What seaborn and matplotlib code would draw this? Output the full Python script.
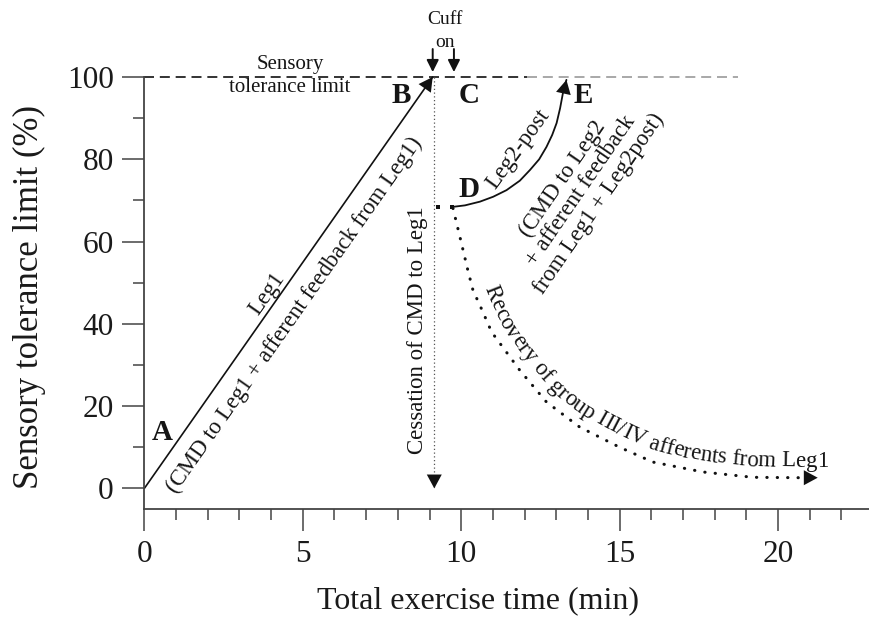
import numpy as np
import seaborn as sns
import matplotlib
matplotlib.use("Agg")
import matplotlib.pyplot as plt
from matplotlib.ticker import MultipleLocator
from matplotlib.font_manager import FontProperties

# schematic values (x: min, y: % of sensory tolerance limit)
leg1_x = [0.0, 9.1]
leg1_y = [0.0, 100.0]

cessation_x = [9.15, 9.15]
cessation_y = [100.0, 0.0]

leg2_x = [9.70, 10.12, 10.59, 11.01, 11.43, 11.85, 12.17, 12.46, 12.69,
          12.87, 13.01, 13.12, 13.21, 13.32]
leg2_y = [68.4, 68.8, 69.7, 70.9, 72.5, 74.8, 77.4, 80.0, 83.0,
          85.9, 88.8, 92.4, 96.1, 99.3]

recovery_x = [9.74, 9.96, 10.21, 10.37, 10.66, 10.96, 11.85, 12.69, 13.74,
              15.0, 16.05, 17.62, 19.2, 20.68, 21.25]
recovery_y = [68.1, 61.1, 53.0, 48.2, 43.3, 38.0, 28.7, 21.0, 14.9,
              10.0, 6.4, 4.0, 2.7, 2.6, 2.6]

gap_x = [9.27, 9.71]
gap_y = [68.4, 68.4]

limit_black_x = [0.0, 12.07]
limit_grey_x = [12.07, 18.73]
limit_y = [100.0, 100.0]

cuff_x = [9.1, 9.77]

x_ticks = [0, 5, 10, 15, 20]
y_ticks = [0, 20, 40, 60, 80, 100]

sns.set_theme(style="ticks")
SERIF = "Liberation Serif"
plt.rcParams["font.family"] = [SERIF, "DejaVu Serif"]
plt.rcParams["text.color"] = "#151515"

fig, ax = plt.subplots(figsize=(8.7, 6.22), dpi=100)
fig.subplots_adjust(left=0.1659, right=1.0, bottom=0.1817, top=0.8762)
ax.set_xlim(0, 22.9)
ax.set_ylim(-5, 100)

K = "#111111"

# dashed sensory tolerance limit
sns.lineplot(x=limit_black_x, y=limit_y, ax=ax, color=K, linewidth=1.2,
             linestyle=(0, (6, 3.5)), estimator=None, sort=False, clip_on=False)
sns.lineplot(x=limit_grey_x, y=limit_y, ax=ax, color="#9a9a9a", linewidth=1.2,
             linestyle=(0, (6, 3.5)), estimator=None, sort=False, clip_on=False)

# Leg1 ramp
sns.lineplot(x=leg1_x, y=leg1_y, ax=ax, color=K, linewidth=1.2,
             estimator=None, sort=False, clip_on=False)

# cessation of CMD (thin dotted vertical)
sns.lineplot(x=cessation_x, y=cessation_y, ax=ax, color="#555555", linewidth=0.9,
             linestyle=(0, (1, 2)), estimator=None, sort=False)

# Leg2-post curve
sns.lineplot(x=leg2_x, y=leg2_y, ax=ax, color=K, linewidth=1.3,
             estimator=None, sort=False, solid_joinstyle="round")

# recovery of group III/IV afferents
sns.lineplot(x=recovery_x[:-1], y=recovery_y[:-1], ax=ax, color=K, linewidth=2.2,
             linestyle=(0, (0.1, 3.3)), dash_capstyle="round",
             estimator=None, sort=False)

sns.scatterplot(x=gap_x, y=gap_y, ax=ax, marker="s", s=10, color=K, linewidth=0)

head = "-|>,head_length=0.5,head_width=0.27"


def arrow_head(x0, y0, x1, y1, scale=20):
    ax.annotate("", xy=(x1, y1), xytext=(x0, y0), annotation_clip=False,
                arrowprops=dict(arrowstyle=head, mutation_scale=scale, color=K,
                                lw=0, shrinkA=0, shrinkB=0))


arrow_head(leg1_x[0], leg1_y[0], leg1_x[-1], leg1_y[-1])
arrow_head(cessation_x[0], 10, cessation_x[-1], cessation_y[-1])
arrow_head(leg2_x[-3], leg2_y[-3], leg2_x[-1], leg2_y[-1])
arrow_head(recovery_x[-3], recovery_y[-1], recovery_x[-1], recovery_y[-1])

for cx in cuff_x:
    ax.annotate("", xy=(cx, 101.2), xytext=(cx, 106.8), annotation_clip=False,
                arrowprops=dict(arrowstyle="-|>,head_length=0.6,head_width=0.3",
                                mutation_scale=12, color=K, lw=1.4,
                                shrinkA=0, shrinkB=0))

# text annotations
ax.text(9.49, 113.9, "Cuff", fontsize=14, ha="center", va="center")
ax.text(9.49, 108.3, "on", fontsize=14, ha="center", va="center")
ax.text(4.6, 103.0, "Sensory", fontsize=15, ha="center", va="center")
ax.text(4.6, 97.5, "tolerance limit", fontsize=15, ha="center", va="center")

bold = dict(fontsize=21, fontweight="bold", ha="center", va="center")
ax.text(0.57, 13.6, "A", **bold)
ax.text(8.12, 95.6, "B", **bold)
ax.text(10.24, 95.4, "C", **bold)
ax.text(10.24, 72.7, "D", **bold)
ax.text(13.84, 95.6, "E", **bold)

p0 = ax.transData.transform((leg1_x[0], leg1_y[0]))
p1 = ax.transData.transform((leg1_x[-1], leg1_y[-1]))
leg1_ang = np.degrees(np.arctan2(p1[1] - p0[1], p1[0] - p0[0]))
note = dict(fontsize=16.5, ha="center", va="center", rotation_mode="anchor")
ax.text(3.87, 47.4, "Leg1", rotation=leg1_ang, **note)
ax.text(4.75, 42.1, "(CMD to Leg1 + afferent feedback from Leg1)",
        rotation=leg1_ang, **note)
ax.text(8.63, 38.4, "Cessation of CMD to Leg1", rotation=90, **note)
ax.text(11.8, 82.5, "Leg2-post", rotation=54, **note)
ax.text(13.78, 72.3, "(CMD to Leg2\n+ afferent feedback\nfrom Leg1 + Leg2post)",
        rotation=55.5, multialignment="center", linespacing=1.05, **note)


def curved_text(xs, ys, text, offset, start_idx, shift=0.0, size=16.5):
    r = fig.canvas.get_renderer()
    pts = ax.transData.transform(np.column_stack([xs, ys]))
    t = np.gradient(pts, axis=0)
    t /= np.linalg.norm(t, axis=1)[:, None]
    n = np.column_stack([-t[:, 1], t[:, 0]])
    base = pts + offset * n
    base = np.vstack([base, base[-1] + 300 * t[-1]])
    ang = np.degrees(np.unwrap(np.arctan2(t[:, 1], t[:, 0])))
    ang = np.append(ang, ang[-1])
    s = np.concatenate([[0], np.cumsum(np.linalg.norm(np.diff(base, axis=0), axis=1))])
    fp = FontProperties(family=SERIF, size=size)
    ref = r.get_text_width_height_descent("|", fp, ismath=False)[0]

    def adv(sub):
        return r.get_text_width_height_descent(sub + "|", fp, ismath=False)[0] - ref

    inv = ax.transData.inverted()
    s0 = s[start_idx] + shift
    for i, ch in enumerate(text):
        if ch == " ":
            continue
        mid = s0 + (adv(text[:i]) + adv(text[:i + 1])) / 2
        px = np.interp(mid, s, base[:, 0])
        py = np.interp(mid, s, base[:, 1])
        a = np.interp(mid, s, ang)
        dx, dy = inv.transform((px, py))
        ax.text(dx, dy, ch, fontproperties=fp, ha="center", va="baseline",
                rotation=a, rotation_mode="anchor")


curved_text(recovery_x, recovery_y, "Recovery of group III/IV afferents from Leg1",
            offset=11, start_idx=3, shift=2, size=16.5)

# axes styling
ax.xaxis.set_major_locator(MultipleLocator(5))
ax.xaxis.set_minor_locator(MultipleLocator(1))
ax.yaxis.set_major_locator(MultipleLocator(20))
ax.yaxis.set_minor_locator(MultipleLocator(10))
ax.set_xticks(x_ticks)
ax.set_yticks(y_ticks)
ax.tick_params(which="major", length=16, width=1.1, color="#444444",
               labelsize=22.5, labelcolor="#1a1a1a", pad=6, direction="out")
ax.tick_params(which="minor", length=8, width=1.1, color="#444444", direction="out")
sns.despine(ax=ax)
for sp in ("left", "bottom"):
    ax.spines[sp].set_linewidth(1.3)
    ax.spines[sp].set_color("#444444")
ax.spines["left"].set_bounds(-5, 100)

ax.set_xlabel("Total exercise time (min)", fontsize=23, color="#1a1a1a")
ax.set_ylabel("Sensory tolerance limit (%)", fontsize=25, color="#1a1a1a")
ax.xaxis.set_label_coords(0.46, -0.178)
ax.yaxis.set_label_coords(-0.136, 0.49)

fig.savefig("out.png", dpi=100)
